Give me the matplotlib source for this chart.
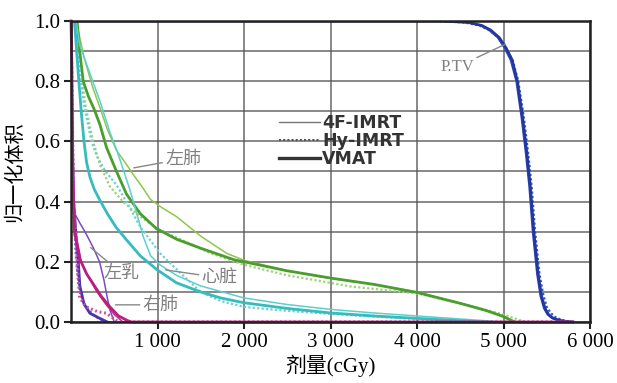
import matplotlib
matplotlib.use("Agg")
import matplotlib.pyplot as plt
from matplotlib.lines import Line2D

# DVH data: dose (cGy) and normalized volume, per structure and plan
ptv_vmat_dose = [0, 4300, 4600, 4750, 4850, 4950, 5030, 5100, 5160, 5220, 5270, 5310, 5350, 5400, 5440, 5480, 5520, 5570, 5640, 5720, 5800]
ptv_vmat_vol = [1.0, 1.0, 0.995, 0.985, 0.97, 0.945, 0.91, 0.87, 0.80, 0.68, 0.56, 0.45, 0.30, 0.16, 0.085, 0.045, 0.025, 0.013, 0.006, 0.002, 0]
ptv_4f_dose = [0, 4250, 4570, 4730, 4830, 4930, 5010, 5080, 5145, 5205, 5255, 5295, 5335, 5385, 5425, 5465, 5505, 5555, 5620, 5700, 5780]
ptv_4f_vol = [1.0, 1.0, 0.995, 0.985, 0.97, 0.945, 0.91, 0.87, 0.80, 0.68, 0.56, 0.45, 0.30, 0.16, 0.085, 0.045, 0.025, 0.013, 0.006, 0.002, 0]
ptv_hy_dose = [0, 4200, 4550, 4720, 4830, 4940, 5030, 5105, 5170, 5235, 5285, 5325, 5365, 5415, 5460, 5500, 5545, 5600, 5670, 5750, 5820]
ptv_hy_vol = [1.0, 1.0, 0.995, 0.985, 0.97, 0.945, 0.91, 0.87, 0.80, 0.68, 0.56, 0.45, 0.30, 0.16, 0.09, 0.05, 0.03, 0.016, 0.007, 0.002, 0]

lung_l_vmat_dose = [70, 100, 141, 200, 263, 333, 410, 526, 641, 800, 988, 1220, 1500, 1882, 2000, 2500, 3000, 3500, 4000, 4500, 4800, 5000, 5120]
lung_l_vmat_vol = [1.0, 0.9, 0.8, 0.75, 0.71, 0.657, 0.58, 0.5, 0.425, 0.36, 0.31, 0.275, 0.245, 0.207, 0.2, 0.17, 0.146, 0.125, 0.098, 0.062, 0.038, 0.018, 0]
lung_l_4f_dose = [60, 150, 250, 341, 419, 526, 650, 718, 820, 919, 1050, 1220, 1500, 1800, 2000, 2500, 3000, 3500, 4000, 4500, 4800, 5000, 5150]
lung_l_4f_vol = [1.0, 0.88, 0.78, 0.707, 0.64, 0.57, 0.52, 0.49, 0.45, 0.407, 0.38, 0.35, 0.285, 0.228, 0.205, 0.17, 0.145, 0.125, 0.1, 0.062, 0.038, 0.02, 0]
lung_l_hy_dose = [40, 100, 180, 256, 333, 450, 600, 800, 1000, 1300, 1600, 2000, 2500, 3000, 3231, 3500, 4000, 4500, 4800, 5000, 5250]
lung_l_hy_vol = [1.0, 0.85, 0.7, 0.6, 0.523, 0.45, 0.4, 0.35, 0.31, 0.27, 0.23, 0.19, 0.155, 0.13, 0.118, 0.11, 0.095, 0.062, 0.04, 0.025, 0]

heart_vmat_dose = [40, 60, 90, 121, 150, 180, 220, 270, 333, 420, 520, 641, 800, 988, 1220, 1497, 1728, 1998, 2500, 3000, 3500, 4000, 4500, 4800]
heart_vmat_vol = [1.0, 0.92, 0.8, 0.69, 0.6, 0.53, 0.48, 0.44, 0.405, 0.36, 0.315, 0.273, 0.22, 0.175, 0.13, 0.1, 0.08, 0.064, 0.045, 0.03, 0.02, 0.012, 0.004, 0]
heart_4f_dose = [60, 100, 179, 333, 450, 526, 600, 680, 760, 834, 920, 1027, 1220, 1497, 1998, 2500, 3000, 3500, 4000, 4500, 5000]
heart_4f_vol = [1.0, 0.92, 0.857, 0.735, 0.63, 0.573, 0.51, 0.44, 0.36, 0.284, 0.22, 0.19, 0.155, 0.12, 0.08, 0.058, 0.042, 0.03, 0.02, 0.01, 0]
heart_hy_dose = [40, 80, 150, 237, 300, 400, 526, 660, 796, 1027, 1220, 1497, 1728, 2000, 2500, 3000, 3500, 4000, 4500, 4700]
heart_hy_vol = [1.0, 0.88, 0.72, 0.6, 0.55, 0.5, 0.455, 0.39, 0.318, 0.229, 0.175, 0.1, 0.07, 0.05, 0.037, 0.027, 0.018, 0.01, 0.003, 0]

breast_4f_dose = [0, 15, 25, 100, 180, 260, 330, 380, 420, 450, 500]
breast_4f_vol = [1.0, 0.6, 0.37, 0.33, 0.29, 0.245, 0.2, 0.14, 0.08, 0.04, 0]
breast_hy_dose = [0, 10, 30, 60, 100, 150, 200, 300, 400]
breast_hy_vol = [1.0, 0.7, 0.35, 0.2, 0.1, 0.06, 0.04, 0.015, 0]
breast_vmat_dose = [0, 10, 30, 60, 83, 102, 150, 218, 333, 420]
breast_vmat_vol = [1.0, 0.7, 0.4, 0.28, 0.207, 0.12, 0.06, 0.029, 0.012, 0]

lung_r_4f_dose = [0, 10, 20, 50, 120, 200, 300, 400, 500, 600, 5800]
lung_r_4f_vol = [1.0, 0.9, 0.5, 0.3, 0.2, 0.15, 0.1, 0.06, 0.025, 0, 0]
lung_r_hy_dose = [0, 10, 30, 60, 80, 100, 180, 300, 410, 500, 550, 5800]
lung_r_hy_vol = [1.0, 0.8, 0.4, 0.28, 0.15, 0.08, 0.05, 0.035, 0.029, 0.01, 0, 0]
lung_r_vmat_dose = [0, 10, 20, 40, 100, 180, 260, 350, 450, 550, 650, 700, 5800]
lung_r_vmat_vol = [1.0, 0.85, 0.5, 0.3, 0.21, 0.16, 0.125, 0.085, 0.05, 0.02, 0.005, 0, 0]

x_ticks = [1000, 2000, 3000, 4000, 5000, 6000]
x_tick_labels = ["1 000", "2 000", "3 000", "4 000", "5 000", "6 000"]
y_ticks = [0.0, 0.2, 0.4, 0.6, 0.8, 1.0]
y_tick_labels = ["0.0", "0.2", "0.4", "0.6", "0.8", "1.0"]
plan_names = ["4F-IMRT", "Hy-IMRT", "VMAT"]

serif = ["Liberation Serif", "Noto Sans CJK SC"]
cjk = ["Noto Sans CJK SC", "DejaVu Sans"]

fig = plt.figure(figsize=(6.17, 3.83), dpi=100)
ax = fig.add_axes([0.1151, 0.1593, 0.8412, 0.7859])

thin = dict(lw=1.1, ls="-")
dot = dict(lw=1.6, ls=(0, (1, 1)))
thick = dict(lw=2.0, ls="-")

# green: left lung
ax.plot(lung_l_4f_dose, lung_l_4f_vol, color="#8cc84b", **thin)
ax.plot(lung_l_hy_dose, lung_l_hy_vol, color="#9fd27a", **dot)
ax.plot(lung_l_vmat_dose, lung_l_vmat_vol, color="#4a9e2e", **thick)
# cyan: heart
ax.plot(heart_4f_dose, heart_4f_vol, color="#5ccfcf", **thin)
ax.plot(heart_hy_dose, heart_hy_vol, color="#6fcfd3", **dot)
ax.plot(heart_vmat_dose, heart_vmat_vol, color="#35bcbc", **thick)
# blue: PTV
ax.plot(ptv_4f_dose, ptv_4f_vol, color="#3048b0", **thin)
ax.plot(ptv_hy_dose, ptv_hy_vol, color="#3a55c0", **dot)
ax.plot(ptv_vmat_dose, ptv_vmat_vol, color="#2238a0", **thick)
# purple: left breast
ax.plot(breast_4f_dose, breast_4f_vol, color="#7a4cc0", **thin)
ax.plot(breast_hy_dose, breast_hy_vol, color="#8a5ccc", **dot)
ax.plot(breast_vmat_dose, breast_vmat_vol, color="#4b35a8", **thick)
# magenta: right lung
ax.plot(lung_r_4f_dose, lung_r_4f_vol, color="#c0298f", clip_on=False, **thin)
ax.plot(lung_r_hy_dose, lung_r_hy_vol, color="#c84fa0", lw=2.2, ls=(0, (0.6, 0.9)))
ax.plot(lung_r_vmat_dose, lung_r_vmat_vol, color="#b8207f", clip_on=False, **thick)

ax.set_xlim(0, 6000)
ax.set_ylim(0, 1.0)
ax.set_xticks(x_ticks)
ax.set_xticklabels(x_tick_labels, family=serif, fontsize=15)
ax.set_yticks(y_ticks)
ax.set_yticklabels(y_tick_labels, family=serif, fontsize=15)
ax.set_yticks([0.1, 0.3, 0.5, 0.7, 0.9], minor=True)
ax.tick_params(axis="y", which="minor", length=0)
ax.tick_params(which="major", direction="out", length=5, width=1.5, color="#222", pad=3)
ax.grid(True, which="both", color="#555", lw=1.3, alpha=0.75)
ax.set_axisbelow(True)
for s in ax.spines.values():
    s.set_linewidth(1.8)
    s.set_color("#222")

ax.set_xlabel("剂量(cGy)", family=serif, fontsize=15, labelpad=2)
ax.set_ylabel("归一化体积", family=cjk, fontsize=14.5, labelpad=6)

# legend
handles = [Line2D([0], [0], color="#777", lw=1.0),
           Line2D([0], [0], color="#555", lw=1.5, ls=(0, (1, 1))),
           Line2D([0], [0], color="#333", lw=2.4)]
leg = ax.legend(handles, plan_names, loc="upper left", bbox_to_anchor=(0.387, 0.715),
                frameon=False, handlelength=2.4, handletextpad=0.1, labelspacing=0.02,
                borderaxespad=0, prop=dict(family="DejaVu Sans", weight="bold", size=12.5))
for t in leg.get_texts():
    t.set_color("#333")

# structure labels
lab = dict(color="#808080", fontsize=13, ha="center", va="center")
arr = dict(arrowstyle="-", color="#888", lw=1.0, shrinkA=0, shrinkB=0)
ax.annotate("P.TV", xy=(5023, 0.923), xytext=(4465, 0.848), family=serif,
            fontsize=12, color="#808080", ha="center", va="center", arrowprops=arr)
ax.annotate("左肺", xy=(726, 0.512), xytext=(1295, 0.542), family=cjk, arrowprops=arr, **lab)
ax.annotate("左乳", xy=(228, 0.247), xytext=(584, 0.162), family=cjk, arrowprops=arr, **lab)
ax.annotate("心脏", xy=(1092, 0.173), xytext=(1717, 0.147), family=cjk, arrowprops=arr, **lab)
ax.annotate("右肺", xy=(514, 0.057), xytext=(1035, 0.057), family=cjk, arrowprops=arr, **lab)

fig.savefig("out.png", dpi=100)
